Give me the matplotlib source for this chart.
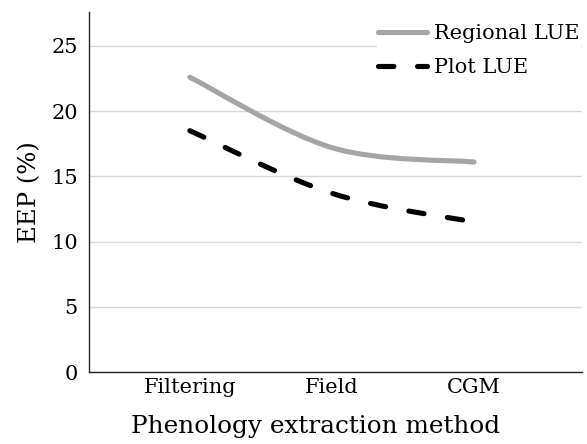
import matplotlib
matplotlib.use("Agg")
import matplotlib.pyplot as plt
from matplotlib.path import Path
from matplotlib.patches import PathPatch
from matplotlib.lines import Line2D
import numpy as np

categories = ["Filtering", "Field", "CGM"]
regional_lue = [22.6, 17.2, 16.1]
plot_lue = [18.5, 13.7, 11.5]
yticks = [0, 5, 10, 15, 20, 25]

plt.rcParams['font.family'] = ['DejaVu Serif']

fig = plt.figure(figsize=(5.87, 4.44), dpi=100)
ax = fig.add_axes([0.1516, 0.162, 0.9915 - 0.1516, 0.973 - 0.162])

x = np.arange(len(categories), dtype=float)


def smooth_path(xs, ys):
    pts = list(zip(xs, ys))
    n = len(pts)
    verts = [pts[0]]
    codes = [Path.MOVETO]
    for i in range(n - 1):
        p0 = np.array(pts[i - 1] if i > 0 else pts[i])
        p1 = np.array(pts[i])
        p2 = np.array(pts[i + 1])
        p3 = np.array(pts[i + 2] if i + 2 < n else pts[i + 1])
        c1 = p1 + (p2 - p0) / 6.0
        c2 = p2 - (p3 - p1) / 6.0
        verts += [tuple(c1), tuple(c2), tuple(p2)]
        codes += [Path.CURVE4] * 3
    return Path(verts, codes)


reg_color = "#A5A5A5"
lw = 3.7
dash = (3.0, 4.6)

p1 = PathPatch(smooth_path(x, regional_lue), fill=False, edgecolor=reg_color,
               linewidth=lw, capstyle='round', joinstyle='round', zorder=3)
ax.add_patch(p1)
p2 = PathPatch(smooth_path(x, plot_lue), fill=False, edgecolor="black",
               linewidth=lw, linestyle=(0, dash), capstyle='round', zorder=3)
ax.add_patch(p2)

ax.set_xlim(-0.71, 2.76)
ax.set_ylim(0, 27.6)
ax.set_yticks(yticks)
ax.set_xticks(x)
ax.set_xticklabels(categories)
ax.tick_params(axis='both', length=0, labelsize=15, colors='black')
ax.tick_params(axis='y', pad=8)
ax.tick_params(axis='x', pad=4)

ax.grid(axis='y', color='#D9D9D9', linewidth=1.0, zorder=0)
ax.set_axisbelow(True)
for s in ['top', 'right']:
    ax.spines[s].set_visible(False)
for s in ['left', 'bottom']:
    ax.spines[s].set_color('#262626')
    ax.spines[s].set_linewidth(1.0)

ax.set_ylabel("EEP (%)", fontsize=17.5, labelpad=7)
ax.set_xlabel("Phenology extraction method", fontsize=17.8)
ax.xaxis.set_label_coords(0.46, -0.118, transform=ax.transAxes)
ax.xaxis.label.set_verticalalignment('top')

handles = [
    Line2D([0], [0], color=reg_color, linewidth=lw, solid_capstyle='round'),
    Line2D([0], [0], color='black', linewidth=lw, linestyle=(0, dash),
           dash_capstyle='round'),
]
leg = fig.legend(handles, ["Regional LUE", "Plot LUE"], loc='upper left',
                 bbox_to_anchor=(377 / 587, 1 - 23 / 444), frameon=True,
                 fontsize=15, handlelength=2.35, handletextpad=0.35,
                 borderpad=0.05, borderaxespad=0, labelspacing=0.72)
leg.get_frame().set_facecolor('white')
leg.get_frame().set_edgecolor('none')
leg.get_frame().set_alpha(1)
leg.get_frame().set_boxstyle('square', pad=0)

fig.savefig("out.png", dpi=100)
